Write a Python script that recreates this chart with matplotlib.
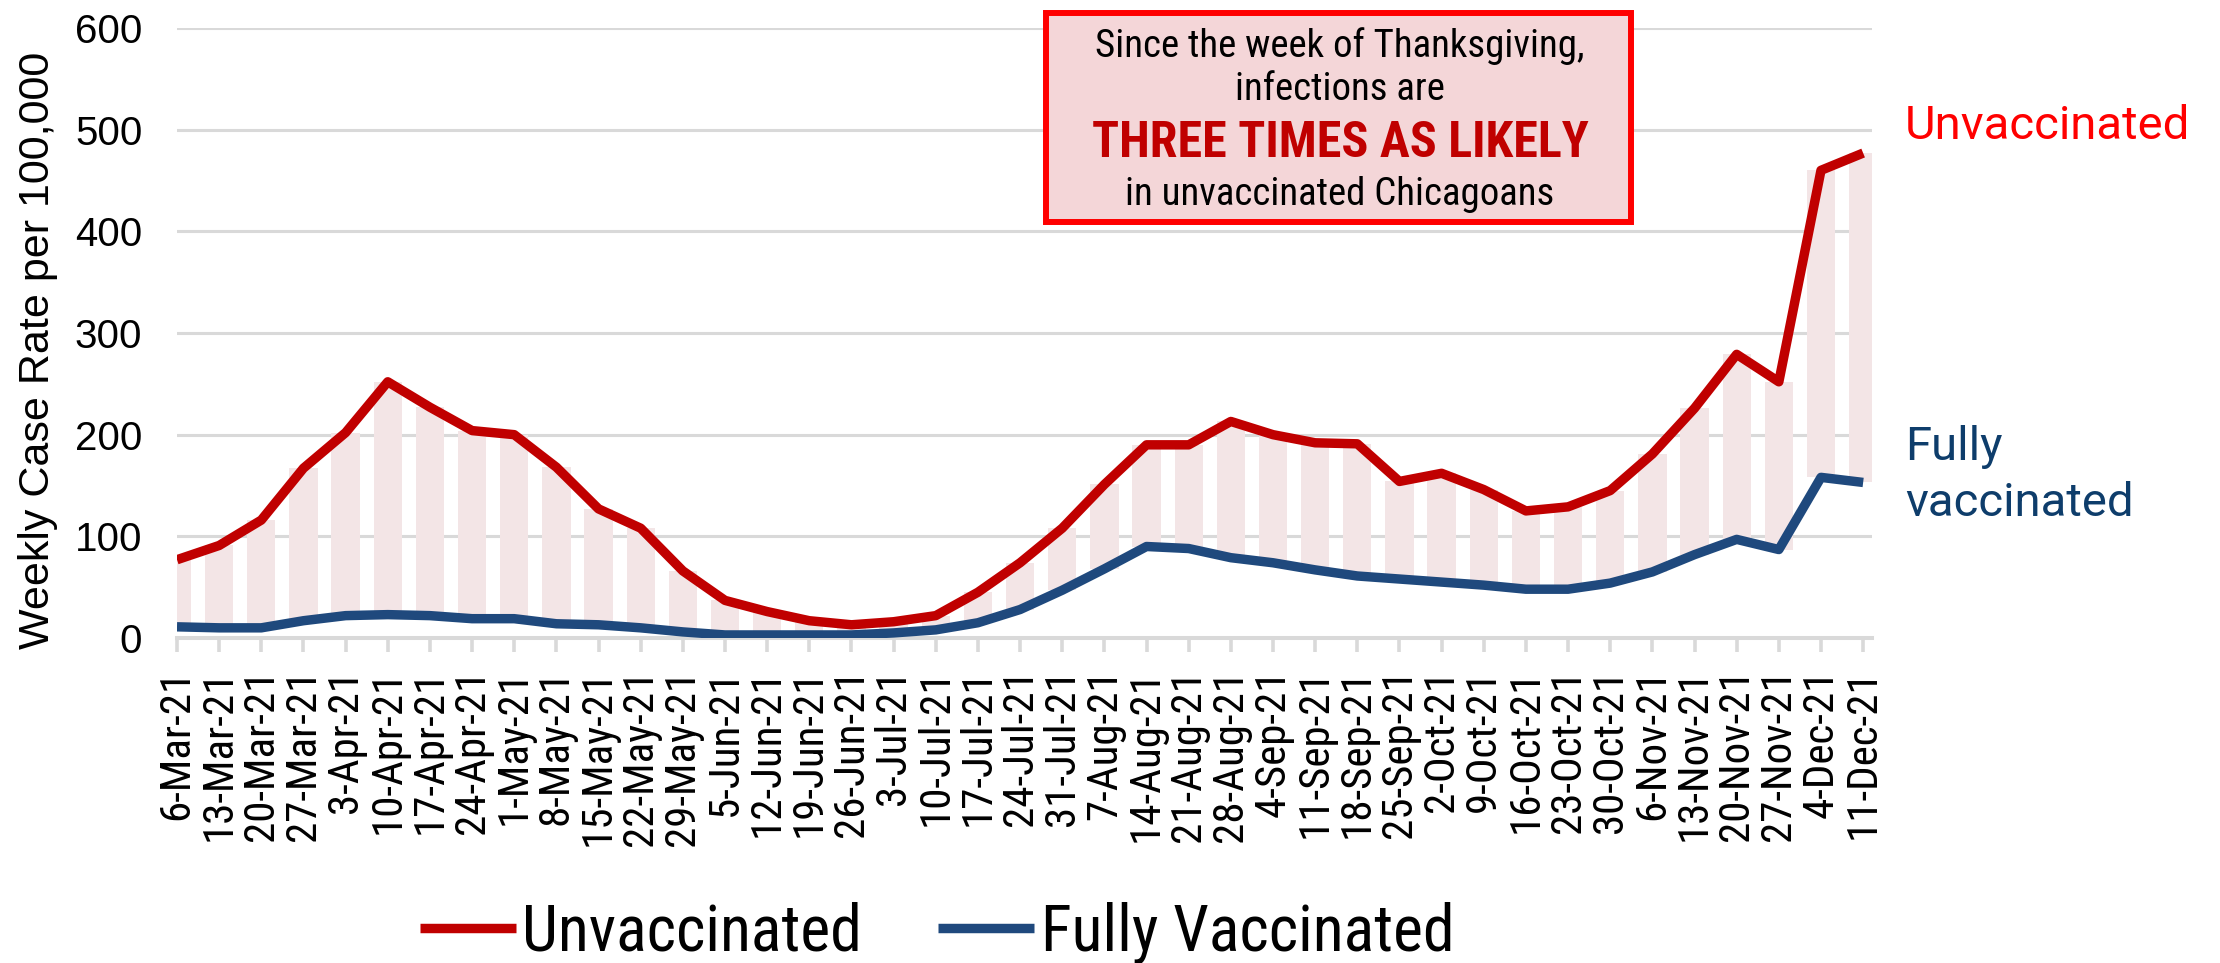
import matplotlib
matplotlib.use("Agg")
import matplotlib.pyplot as plt
from matplotlib.patches import Rectangle
import numpy as np

weeks = ["6-Mar-21", "13-Mar-21", "20-Mar-21", "27-Mar-21", "3-Apr-21", "10-Apr-21",
         "17-Apr-21", "24-Apr-21", "1-May-21", "8-May-21", "15-May-21", "22-May-21",
         "29-May-21", "5-Jun-21", "12-Jun-21", "19-Jun-21", "26-Jun-21", "3-Jul-21",
         "10-Jul-21", "17-Jul-21", "24-Jul-21", "31-Jul-21", "7-Aug-21", "14-Aug-21",
         "21-Aug-21", "28-Aug-21", "4-Sep-21", "11-Sep-21", "18-Sep-21", "25-Sep-21",
         "2-Oct-21", "9-Oct-21", "16-Oct-21", "23-Oct-21", "30-Oct-21", "6-Nov-21",
         "13-Nov-21", "20-Nov-21", "27-Nov-21", "4-Dec-21", "11-Dec-21"]

unvaccinated = [77, 91, 116, 167, 202, 252, 227, 204, 200, 168, 127, 108,
                66, 37, 26, 17, 13, 16, 22, 45, 74, 108, 151, 190,
                190, 213, 200, 192, 191, 154, 162, 146, 125, 129, 145, 181,
                226, 279, 252, 460, 477]

fully_vaccinated = [11, 10, 10, 17, 22, 23, 22, 19, 19, 14, 13, 10,
                    6, 3, 3, 3, 3, 5, 8, 15, 28, 47, 68, 90,
                    88, 79, 74, 67, 61, 58, 55, 52, 48, 48, 54, 65,
                    82, 97, 87, 158, 153]

yticks = [0, 100, 200, 300, 400, 500, 600]

RED = "#c00000"
BLUE = "#1f497d"
GRID = "#d9d9d9"
SANS = ["Liberation Sans", "DejaVu Sans"]
COND = ["Roboto Condensed", "Liberation Sans", "DejaVu Sans"]
ROBOTO = ["Roboto", "DejaVu Sans"]

W, H = 2220, 963


def px(x, y):
    # pixel position (from top-left) -> figure fraction
    return x / W, 1 - y / H


fig = plt.figure(figsize=(22.2, 9.63), dpi=100)
ax = fig.add_axes([177 / W, 1 - 638 / H, (1872 - 177) / W, (638 - 28) / H])

x = np.arange(len(weeks))
unv = np.array(unvaccinated)
vac = np.array(fully_vaccinated)

# pink gap bars between the two series
ax.bar(x, unv - vac, bottom=vac, width=0.67, color="#f3e5e6", zorder=1)

ax.plot(x, vac, color=BLUE, lw=6.8, zorder=3, label="Fully Vaccinated",
        solid_joinstyle="round", solid_capstyle="butt")
ax.plot(x, unv, color=RED, lw=6.8, zorder=4, label="Unvaccinated",
        solid_joinstyle="round", solid_capstyle="butt")

ax.set_xlim(0, 40.21)
ax.set_ylim(0, 600)
ax.set_yticks(yticks)
ax.set_yticklabels([str(v) for v in yticks], family=SANS, fontsize=29)
ax.set_xticks(x)
ax.set_xticklabels(weeks, rotation=90, family=COND, fontsize=31,
                   va="top", ha="center")

ax.yaxis.grid(True, color=GRID, lw=2.2)
ax.set_axisbelow(True)
for s in ["left", "right", "top"]:
    ax.spines[s].set_visible(False)
ax.spines["bottom"].set_color(GRID)
ax.spines["bottom"].set_linewidth(2.9)
ax.tick_params(axis="y", length=0, pad=25)
ax.tick_params(axis="x", direction="out", length=10, width=2.6, color=GRID, pad=12)

fig.text(*px(38, 350), "Weekly Case Rate per 100,000", rotation=90,
         family=SANS, fontsize=31, ha="center", va="center")

# legend at the bottom
h, l = ax.get_legend_handles_labels()
leg = fig.legend(h[::-1], l[::-1], loc="center", bbox_to_anchor=px(937, 933),
                 ncol=2, frameon=False, handlelength=1.5, handletextpad=0.1,
                 columnspacing=1.2, borderpad=0, prop={"family": COND, "size": 46})

# callout box
fig.add_artist(Rectangle(px(1046, 222), (1631 - 1046) / W, (222 - 13) / H,
                         transform=fig.transFigure, facecolor="#f4d6d8",
                         edgecolor="#ff0000", lw=4.3, zorder=5))
cx = 1340
fig.text(*px(cx, 57), "Since the week of Thanksgiving,", family=COND, fontsize=28,
         ha="center", va="baseline", zorder=6)
fig.text(*px(cx, 100), "infections are", family=COND, fontsize=28,
         ha="center", va="baseline", zorder=6)
fig.text(*px(cx, 157), "THREE TIMES AS LIKELY", family=COND, fontsize=36,
         fontweight="bold", color=RED, ha="center", va="baseline", zorder=6)
fig.text(*px(cx, 205), "in unvaccinated Chicagoans", family=COND, fontsize=28,
         ha="center", va="baseline", zorder=6)

# series labels on the right
fig.text(*px(1905, 139), "Unvaccinated", family=ROBOTO, fontsize=34,
         color="#ff0000", ha="left", va="baseline")
fig.text(*px(1905, 460), "Fully", family=ROBOTO, fontsize=34,
         color="#0e3d6b", ha="left", va="baseline")
fig.text(*px(1905, 516), "vaccinated", family=ROBOTO, fontsize=34,
         color="#0e3d6b", ha="left", va="baseline")

fig.savefig("out.png", dpi=100, facecolor="white")
